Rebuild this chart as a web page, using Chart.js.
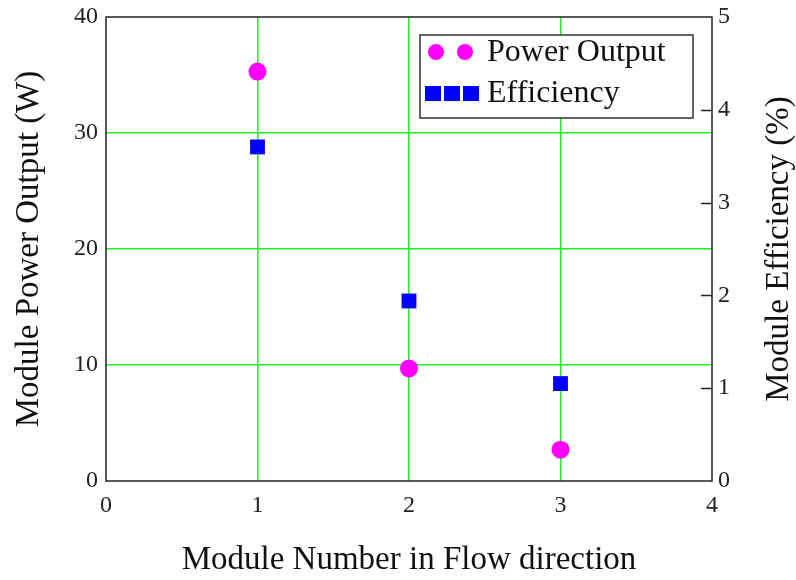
<!DOCTYPE html>
<html>
<head>
<meta charset="utf-8">
<script src="https://cdn.jsdelivr.net/npm/chart.js@4"></script>
<style>
  html, body { margin: 0; padding: 0; background: #fff; }
  #wrap { width: 796px; height: 580px; }
</style>
</head>
<body>
<div id="wrap"><canvas id="myChart" width="796" height="580"></canvas></div>
<script>
const modules = [1, 2, 3]
const powerOutput = [35.3, 9.7, 2.7]
const efficiency = [3.6, 1.94, 1.05]
const xTicks = [0, 1, 2, 3, 4]
const leftTicks = [0, 10, 20, 30, 40]
const rightTicks = [0, 1, 2, 3, 4, 5]

const serif = '"Liberation Serif", "Times New Roman", serif'

// frame, inward ticks on right axis, right title and the legend box
const extras = {
    id: 'extras',
    afterDraw(chart) {
        const c = chart.ctx
        const a = chart.chartArea
        const y2 = chart.scales.y2
        c.save()
        c.strokeStyle = '#222'
        c.lineWidth = 1.5
        c.strokeRect(a.left, a.top, a.right - a.left, a.bottom - a.top)
        c.beginPath()
        rightTicks.forEach(v => {
            if (v === 0 || v === 5) return
            const py = Math.round(y2.getPixelForValue(v)) + 0.5
            c.moveTo(a.right - 11, py)
            c.lineTo(a.right, py)
        })
        c.stroke()

        // right axis title, reading bottom to top
        c.save()
        c.translate(779, (a.top + a.bottom) / 2)
        c.rotate(-Math.PI / 2)
        c.fillStyle = '#111'
        c.font = '33px ' + serif
        c.textAlign = 'center'
        c.textBaseline = 'middle'
        c.fillText('Module Efficiency (%)', 0, 0)
        c.restore()

        // legend
        const lx = 420, ly = 35, lw = 273, lh = 83
        c.fillStyle = '#fff'
        c.fillRect(lx, ly, lw, lh)
        c.strokeStyle = '#333'
        c.lineWidth = 1.5
        c.strokeRect(lx, ly, lw, lh)
        c.fillStyle = '#ff00ff'
        ;[436, 465].forEach(cx => {
            c.beginPath()
            c.arc(cx, 52, 8, 0, Math.PI * 2)
            c.fill()
        })
        c.fillStyle = '#0000ff'
        ;[425, 444, 463].forEach(sx => c.fillRect(sx, 86, 16, 15))
        c.fillStyle = '#111'
        c.font = '32px ' + serif
        c.textBaseline = 'middle'
        c.textAlign = 'left'
        c.fillText('Power Output', 487, 53)
        c.fillText('Efficiency', 487, 94)
        c.restore()
    }
}

const noVPad = s => { s.paddingTop = 0; s.paddingBottom = 0 }

const ctx = document.getElementById('myChart')

const myChart = new Chart(ctx, {
    type: 'scatter',
    data: {
        datasets: [{
            label: 'Power Output',
            data: modules.map((m, i) => ({ x: m, y: powerOutput[i] })),
            yAxisID: 'y',
            pointStyle: 'circle',
            pointRadius: 9,
            pointHoverRadius: 9,
            backgroundColor: '#ff00ff',
            borderColor: '#ff00ff',
            borderWidth: 0
        }, {
            label: 'Efficiency',
            data: modules.map((m, i) => ({ x: m, y: efficiency[i] })),
            yAxisID: 'y2',
            pointStyle: 'rect',
            pointRadius: 10.5,
            pointHoverRadius: 10.5,
            backgroundColor: '#0000ff',
            borderColor: '#0000ff',
            borderWidth: 0
        }]
    },
    options: {
        responsive: false,
        animation: false,
        layout: { padding: { top: 17, left: 0, right: 0, bottom: 0 } },
        plugins: {
            legend: { display: false },
            tooltip: { enabled: false }
        },
        scales: {
            x: {
                type: 'linear',
                min: 0,
                max: 4,
                afterBuildTicks: s => { s.ticks = xTicks.map(v => ({ value: v })) },
                afterFit: s => { s.height = 99; s.paddingLeft = 0; s.paddingRight = 0 },
                grid: {
                    color: ctx => (ctx.tick && (ctx.tick.value === 0 || ctx.tick.value === 4)) ? 'rgba(0,0,0,0)' : '#22ee22',
                    lineWidth: 1.5,
                    drawTicks: false
                },
                border: { display: false },
                ticks: { color: '#222', font: { family: serif, size: 24 }, padding: 10 },
                title: {
                    display: true,
                    text: 'Module Number in Flow direction',
                    color: '#111',
                    font: { family: serif, size: 33 },
                    padding: { top: 0, bottom: 0 }
                }
            },
            y: {
                position: 'left',
                min: 0,
                max: 40,
                afterBuildTicks: s => { s.ticks = leftTicks.map(v => ({ value: v })) },
                afterFit: s => { s.width = 106; noVPad(s) },
                grid: {
                    color: ctx => (ctx.tick && (ctx.tick.value === 0 || ctx.tick.value === 40)) ? 'rgba(0,0,0,0)' : '#22ee22',
                    lineWidth: 1.5,
                    drawTicks: false
                },
                border: { display: false },
                ticks: { color: '#222', font: { family: serif, size: 24 }, padding: 8 },
                title: {
                    display: true,
                    text: 'Module Power Output (W)',
                    color: '#111',
                    font: { family: serif, size: 33 },
                    padding: { top: 10, bottom: 0 }
                }
            },
            y2: {
                position: 'right',
                min: 0,
                max: 5,
                afterBuildTicks: s => { s.ticks = rightTicks.map(v => ({ value: v })) },
                afterFit: s => { s.width = 84; noVPad(s) },
                grid: { display: false, drawTicks: false },
                border: { display: false },
                ticks: { color: '#222', font: { family: serif, size: 24 }, padding: 6 },
                title: { display: false }
            }
        }
    },
    plugins: [extras]
})
</script>
</body>
</html>
